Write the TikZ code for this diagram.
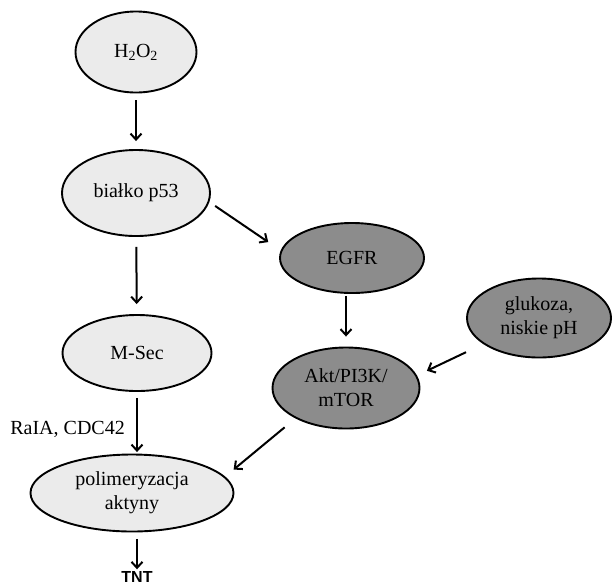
\documentclass[tikz,border=0pt]{standalone}
\usepackage{fontspec}
\setmainfont{Liberation Serif}
\newfontfamily\tntfont{Liberation Sans}
\usetikzlibrary{arrows.meta,shapes.geometric}
\definecolor{jasny}{HTML}{EBEBEB}
\definecolor{ciemny}{HTML}{8C8C8C}
\begin{document}
\begin{tikzpicture}[x=1pt,y=-1pt,
    font=\fontsize{20}{24}\selectfont,
    >={Straight Barb[length=6pt,width=11pt]},
    ell/.style={ellipse,draw,line width=1.9pt,inner sep=0pt,align=center},
    jasnyell/.style={ell,fill=jasny},
    ciemnyell/.style={ell,fill=ciemny}]
  \useasboundingbox (0,0) rectangle (612,587);
  \draw
    (136,52) node[jasnyell,minimum width=121pt,minimum height=81pt] (h2o2){H\textsubscript{2}O\textsubscript{2}}
    (136,193) node[jasnyell,minimum width=148pt,minimum height=86pt] (p53){białko p53}
    (352,258) node[ciemnyell,minimum width=144pt,minimum height=70pt] (egfr){EGFR}
    (539,318) node[ciemnyell,minimum width=144pt,minimum height=79pt] (gluk){glukoza,\\niskie pH}
    (137,353) node[jasnyell,minimum width=149pt,minimum height=76pt] (msec){M-Sec}
    (346,388) node[ciemnyell,minimum width=147pt,minimum height=81pt] (akt){Akt/PI3K/\\mTOR}
    (132,493) node[jasnyell,minimum width=203pt,minimum height=77pt] (poly){polimeryzacja\\aktyny}
    (125,429) node[anchor=east,inner sep=0pt] (ralia){RaIA, CDC42}
    (137,577) node[inner sep=0pt,font=\tntfont\bfseries\fontsize{16}{18}\selectfont] (tnt){TNT};
  \begin{scope}[->,line width=2pt]
    \draw[shorten <=7pt,shorten >=8pt] (h2o2) to (p53);
    \draw[shorten <=7pt,shorten >=15pt] (p53.-7) to (egfr.174);
    \draw[shorten <=10pt,shorten >=10pt] (p53) to (msec);
    \draw[shorten <=2pt,shorten >=10pt] (egfr.south -| akt) to (akt);
    \draw[shorten <=19pt,shorten >=11pt] (gluk.205) to (akt.10);
    \draw[shorten <=14pt,shorten >=11pt] (akt.211) to (poly.10);
    \draw[shorten <=6pt,shorten >=1.5pt] (msec) to (msec |- poly.north);
    \draw[shorten <=6.5pt,shorten >=2pt] (poly.south -| tnt) to (tnt);
  \end{scope}
\end{tikzpicture}
\end{document}
